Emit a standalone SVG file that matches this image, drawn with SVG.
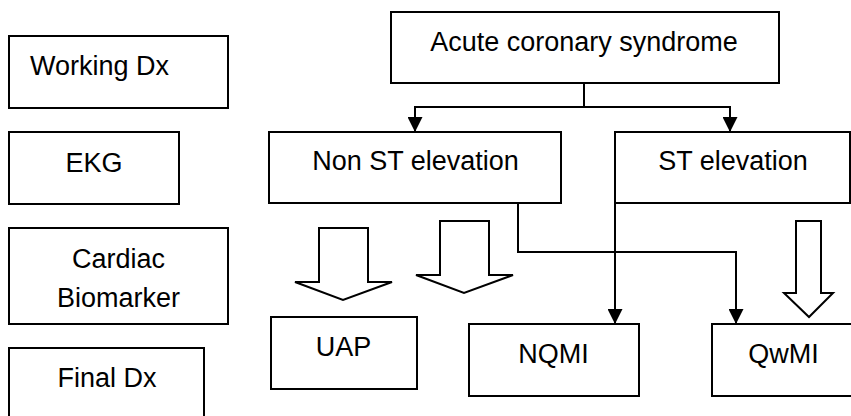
<svg xmlns="http://www.w3.org/2000/svg" width="851" height="416" viewBox="0 0 851 416">
<style>
.box{fill:#fff;stroke:#000;stroke-width:2}
.t{font-family:"Liberation Sans",Arial,sans-serif;font-size:27px;fill:#000;text-anchor:middle}
.ln{fill:none;stroke:#000;stroke-width:2}
.blk{fill:#fff;stroke:#000;stroke-width:2;stroke-linejoin:miter}
</style>
<defs>
<marker id="ah" markerWidth="15" markerHeight="15" viewBox="0 0 15 15" refX="15" refY="7.5" orient="auto" markerUnits="userSpaceOnUse">
<path d="M0,0 L15,7.5 L0,15 Z" fill="#000"/>
</marker>
</defs>
<rect width="851" height="416" fill="#fff"/>
<g id="working-dx"><rect class="box" x="9" y="36" width="219" height="72"/><text class="t" x="99.5" y="75">Working Dx</text></g>
<g id="ekg"><rect class="box" x="9" y="132" width="170" height="72"/><text class="t" x="94" y="172">EKG</text></g>
<g id="cardiac-biomarker"><rect class="box" x="9" y="228" width="219" height="96"/><text class="t" x="118.5" y="268">Cardiac</text><text class="t" x="118.5" y="307">Biomarker</text></g>
<g id="final-dx"><rect class="box" x="9" y="348" width="195" height="80"/><text class="t" x="107" y="387">Final Dx</text></g>
<g id="acs"><rect class="box" x="391" y="12" width="388" height="71"/><text class="t" x="584" y="51">Acute coronary syndrome</text></g>
<g id="non-st"><rect class="box" x="269" y="132" width="292" height="71"/><text class="t" x="415.5" y="170">Non ST elevation</text></g>
<g id="st"><rect class="box" x="615" y="132" width="235" height="71"/><text class="t" x="733" y="170">ST elevation</text></g>
<g id="uap"><rect class="box" x="271" y="317" width="146" height="72"/><text class="t" x="343.5" y="356">UAP</text></g>
<g id="nqmi"><rect class="box" x="469" y="324" width="170" height="72"/><text class="t" x="553.5" y="363">NQMI</text></g>
<g id="qwmi"><rect class="box" x="712" y="324" width="145" height="72"/><text class="t" x="783.5" y="363">QwMI</text></g>
<g id="connectors">
<path class="ln" d="M584,83 V107"/>
<path class="ln" d="M584,107 H415 V132" marker-end="url(#ah)"/>
<path class="ln" d="M584,107 H730 V132" marker-end="url(#ah)"/>
<path class="ln" d="M518,203 V252 H736 V324" marker-end="url(#ah)"/>
<path class="ln" d="M615,203 V324" marker-end="url(#ah)"/>
<path class="blk" d="M319,228 H368 V282 H392 L343,300 L295,282 H319 Z"/>
<path class="blk" d="M440,221 H489 V275 H513 L464,293 L416,275 H440 Z"/>
<path class="blk" d="M796,221 H821 V293 H833 L809,317 L784,293 H796 Z"/>
</g>
</svg>
